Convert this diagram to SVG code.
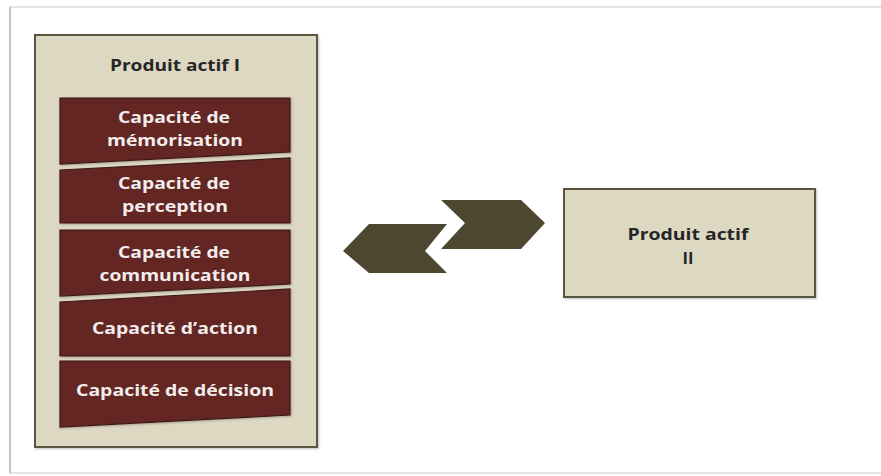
<svg xmlns="http://www.w3.org/2000/svg" width="881" height="476" viewBox="0 0 881 476">
<defs>
<style>
.outer{fill:#DDD8C2;stroke:#5A5540;stroke-width:2}
.cap{fill:#632523;stroke:#3E1A18;stroke-width:1.2}
.lbl{font-family:"Open Sans","Liberation Sans",sans-serif;font-weight:bold;font-size:16.5px;text-anchor:middle}
.dark{fill:#262626}
.light{fill:#F2EDED}
.chev{fill:#4D4731}
</style>
<filter id="sh" x="-5%" y="-5%" width="110%" height="110%">
<feDropShadow dx="1" dy="1" stdDeviation="1" flood-color="#000" flood-opacity="0.25"/>
</filter>
</defs>
<rect width="881" height="476" fill="#FFFFFF"/>
<rect x="10" y="7" width="880" height="466" fill="#FFFFFF" stroke="#DADADA" stroke-width="1.5"/>
<line x1="10" y1="7" x2="10" y2="473" stroke="#C4C4C4" stroke-width="2"/>
<g id="produit1">
<rect class="outer" x="35" y="35" width="282" height="412" filter="url(#sh)"/>
<text class="lbl dark" x="175" y="71" textLength="130" lengthAdjust="spacingAndGlyphs">Produit actif I</text>
</g>
<g id="memorisation">
<polygon class="cap" points="60,98 290,98 290,152 60,164" filter="url(#sh)"/>
<text class="lbl light" x="174" y="123" textLength="112" lengthAdjust="spacingAndGlyphs">Capacité de</text>
<text class="lbl light" x="175" y="146" textLength="136" lengthAdjust="spacingAndGlyphs">mémorisation</text>
</g>
<g id="perception">
<polygon class="cap" points="60,170 290,158 290,223 60,223" filter="url(#sh)"/>
<text class="lbl light" x="174" y="189" textLength="112" lengthAdjust="spacingAndGlyphs">Capacité de</text>
<text class="lbl light" x="175" y="212" textLength="106" lengthAdjust="spacingAndGlyphs">perception</text>
</g>
<g id="communication">
<polygon class="cap" points="60,230 290,230 290,284 60,296" filter="url(#sh)"/>
<text class="lbl light" x="174" y="258" textLength="112" lengthAdjust="spacingAndGlyphs">Capacité de</text>
<text class="lbl light" x="175" y="281" textLength="151" lengthAdjust="spacingAndGlyphs">communication</text>
</g>
<g id="action">
<polygon class="cap" points="60,302 290,289 290,356 60,356" filter="url(#sh)"/>
<text class="lbl light" x="175" y="334" textLength="166" lengthAdjust="spacingAndGlyphs">Capacité d’action</text>
</g>
<g id="decision">
<polygon class="cap" points="60,361 290,361 290,415 60,427" filter="url(#sh)"/>
<text class="lbl light" x="175" y="396" textLength="198" lengthAdjust="spacingAndGlyphs">Capacité de décision</text>
</g>
<g id="produit2">
<rect class="outer" x="564" y="189" width="251" height="108" filter="url(#sh)"/>
<text class="lbl dark" x="688" y="240" textLength="121" lengthAdjust="spacingAndGlyphs">Produit actif</text>
<text class="lbl dark" x="688" y="264">II</text>
</g>
<g id="connectors">
<polygon class="chev" points="441,200 521,200 545,223 521,249 441,249 465,223"/>
<polygon class="chev" points="343,251 369,224 447,224 425,251 447,273 369,273"/>
</g>
</svg>
